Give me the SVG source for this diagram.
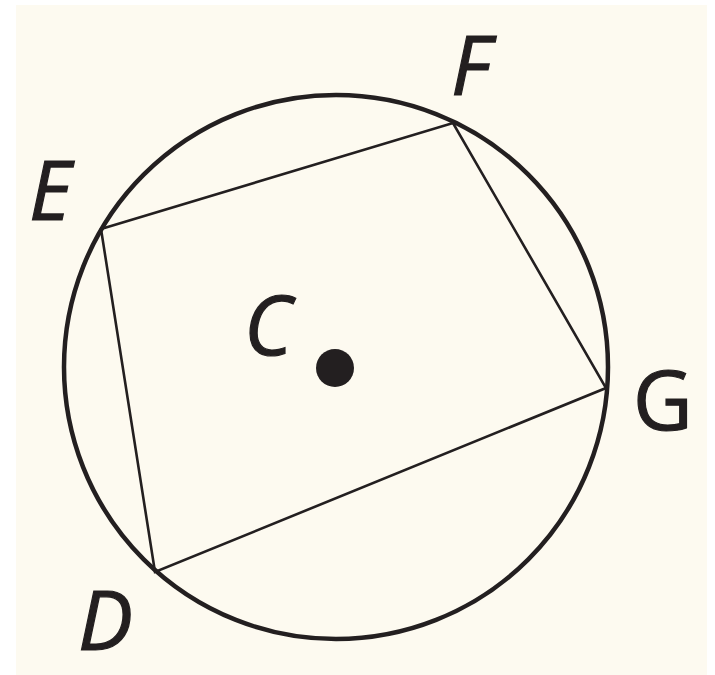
<svg xmlns="http://www.w3.org/2000/svg" width="715" height="675" viewBox="0 0 715 675">
<style>
.lbl{font-family:"Open Sans","Liberation Sans",sans-serif;font-style:italic;font-size:82px;fill:#231f20;stroke:#231f20;stroke-width:1.2}
.chord{stroke:#231f20;stroke-width:2.6;fill:none;stroke-linecap:round}
</style>
<rect x="0" y="0" width="715" height="675" fill="#ffffff"/>
<rect x="16" y="5" width="691" height="670" fill="#fdfaf0"/>
<g id="circle"><circle cx="336" cy="367" r="272" fill="none" stroke="#231f20" stroke-width="4.5"/></g>
<g id="connectors">
<polyline class="chord" points="101,229 453,123 606,388 155,572 101,229"/>
</g>
<g id="C"><circle cx="335" cy="368" r="19" fill="#231f20"/><text class="lbl" x="244" y="355">C</text></g>
<g id="E"><text class="lbl" x="29" y="220">E</text></g>
<g id="F"><text class="lbl" x="451" y="95">F</text></g>
<g id="G"><text class="lbl" x="633" y="430" style="font-style:normal">G</text></g>
<g id="D"><text class="lbl" x="78" y="650">D</text></g>
</svg>
